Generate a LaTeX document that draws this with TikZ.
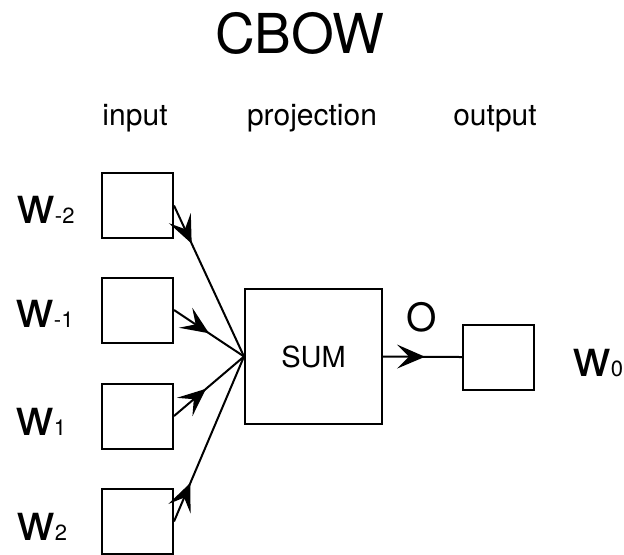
\documentclass[tikz,border=0pt]{standalone}
\usepackage{fontspec}
\setmainfont{TeX Gyre Heros}
\usetikzlibrary{arrows.meta, decorations.markings}
\tikzset{
  wordbox/.style={rectangle, draw, line width=1pt, minimum width=35.5pt,
                  minimum height=32.5pt, inner sep=0pt},
  sumbox/.style={rectangle, draw, line width=1pt, minimum width=68.5pt,
                 minimum height=67.5pt, font=\fontsize{14.5}{16}\selectfont},
  headlabel/.style={anchor=base, font=\fontsize{15}{17}\selectfont},
  wordlabel/.style={anchor=base west, inner sep=0pt, font=\fontsize{26}{28}\selectfont},
  flow/.style={line width=1pt, postaction={decorate},
               decoration={markings, mark=at position 21pt with
                 {\arrow{Stealth[length=14pt, width=12pt, inset=6pt]}}}},
}
\newcommand{\wsub}[1]{w{\fontsize{11}{12}\selectfont #1}}

\begin{document}
\begin{tikzpicture}[x=0.5pt, y=-0.5pt]
  \useasboundingbox (0,0) rectangle (624,554);

  % Title and column headers
  \node (title) at (300,53) [anchor=base, font=\fontsize{27.5}{30}\selectfont] {CBOW};
  \node (hinput) at (135,125) [headlabel] {input};
  \node (hproj) at (312,125) [headlabel] {projection};
  \node (houtput) at (495,125) [headlabel] {output};

  % Input words
  \node (wm2) at (137.5,205.5) [wordbox] {};
  \node (wm1) at (137.5,310) [wordbox] {};
  \node (wp1) at (137.5,416) [wordbox] {};
  \node (wp2) at (137.5,521.5) [wordbox] {};
  \node (lm2) at (17,223) [wordlabel] {\wsub{-2}};
  \node (lm1) at (16,327) [wordlabel] {\wsub{-1}};
  \node (lp1) at (16,435) [wordlabel] {\wsub{1}};
  \node (lp2) at (17,540) [wordlabel] {\wsub{2}};

  % Projection and output
  \node (sum) at (313.5,356.5) [sumbox] {SUM};
  \node (wout) at (498.5,357) [wordbox] {};
  \node (lout) at (573,376) [wordlabel] {\wsub{0}};
  \node (olabel) at (422,331) [anchor=base, font=\fontsize{19.5}{21}\selectfont] {O};

  % Connections
  \draw[flow] (wm2.east) -- (sum.west);
  \draw[flow] (wm1.east) -- (sum.west);
  \draw[flow] (wp1.east) -- (sum.west);
  \draw[flow] (wp2.east) -- (sum.west);
  \draw[flow] (sum.east) -- (wout.west);

\end{tikzpicture}
\end{document}
